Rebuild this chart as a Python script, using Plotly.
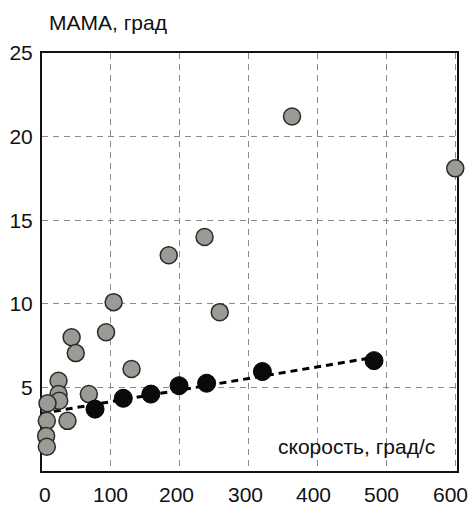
import plotly.graph_objects as go

# gray points (МАМА vs speed)
gray_x = [363, 600, 236, 184, 104, 258, 93, 43, 49, 130, 24, 24, 25, 68, 8, 7, 37, 6, 7]
gray_y = [21.2, 18.1, 14.0, 12.9, 10.1, 9.5, 8.3, 8.0, 7.05, 6.1, 5.4, 4.6, 4.2, 4.6, 4.05, 3.0, 3.0, 2.1, 1.45]

# black points
black_x = [77, 118, 158, 199, 239, 320, 482]
black_y = [3.7, 4.35, 4.6, 5.1, 5.25, 5.95, 6.6]

# dashed trend line endpoints
trend_x = [0, 482]
trend_y = [3.45, 6.8]

x_ticks = [0, 100, 200, 300, 400, 500, 600]
x_labels = ["0", "100", "200", "300", "400", "500", "600"]
y_ticks = [5, 10, 15, 20, 25]

FONT = "Liberation Sans, Arial, sans-serif"

fig = go.Figure()
fig.add_trace(go.Scatter(x=trend_x, y=trend_y, mode="lines",
                         line=dict(color="black", width=3, dash="7px,5px"),
                         hoverinfo="skip", cliponaxis=False))
fig.add_trace(go.Scatter(x=gray_x, y=gray_y, mode="markers",
                         marker=dict(size=17, color="#9c9a95",
                                     line=dict(color="#2b2b2b", width=1.5)),
                         cliponaxis=False))
fig.add_trace(go.Scatter(x=black_x, y=black_y, mode="markers",
                         marker=dict(size=18, color="#0a0a0a",
                                     line=dict(color="#000000", width=1)),
                         cliponaxis=False))

axis_common = dict(
    showline=True, linecolor="#111111", linewidth=2, mirror=True,
    showgrid=True, gridcolor="#8a8a8a", gridwidth=1, griddash="6px,5px",
    zeroline=False, ticks="", layer="below traces", automargin=False,
    tickfont=dict(family=FONT, size=21, color="#111111"),
)

fig.update_xaxes(range=[0, 602.5], tickvals=x_ticks, showticklabels=False, **axis_common)
fig.update_yaxes(range=[0, 25], tickvals=y_ticks, ticklabelstandoff=3, **axis_common)

# x tick labels (slightly offset as in the original scan)
label_shift = [3, 0, -3, -3, -4, -4.5, -5]
for xv, txt, sh in zip(x_ticks, x_labels, label_shift):
    fig.add_annotation(text=txt, xref="x", yref="paper", x=xv, y=0,
                       xanchor="center", yanchor="middle", xshift=sh, yshift=-23,
                       showarrow=False, font=dict(family=FONT, size=21, color="#111111"))

fig.add_annotation(text="МАМА, град", xref="paper", yref="paper", x=0.012, y=1.074,
                   xanchor="left", yanchor="middle", showarrow=False,
                   font=dict(family=FONT, size=21, color="#111111"))
fig.add_annotation(text="скорость, град/с", xref="x", yref="y", x=573, y=1.44,
                   xanchor="right", yanchor="middle", showarrow=False,
                   font=dict(family=FONT, size=21, color="#111111"))

fig.update_layout(
    width=470, height=505,
    margin=dict(l=42, r=13, t=53, b=34, autoexpand=False),
    paper_bgcolor="white", plot_bgcolor="white",
    showlegend=False,
)

fig.write_html("out.html")
